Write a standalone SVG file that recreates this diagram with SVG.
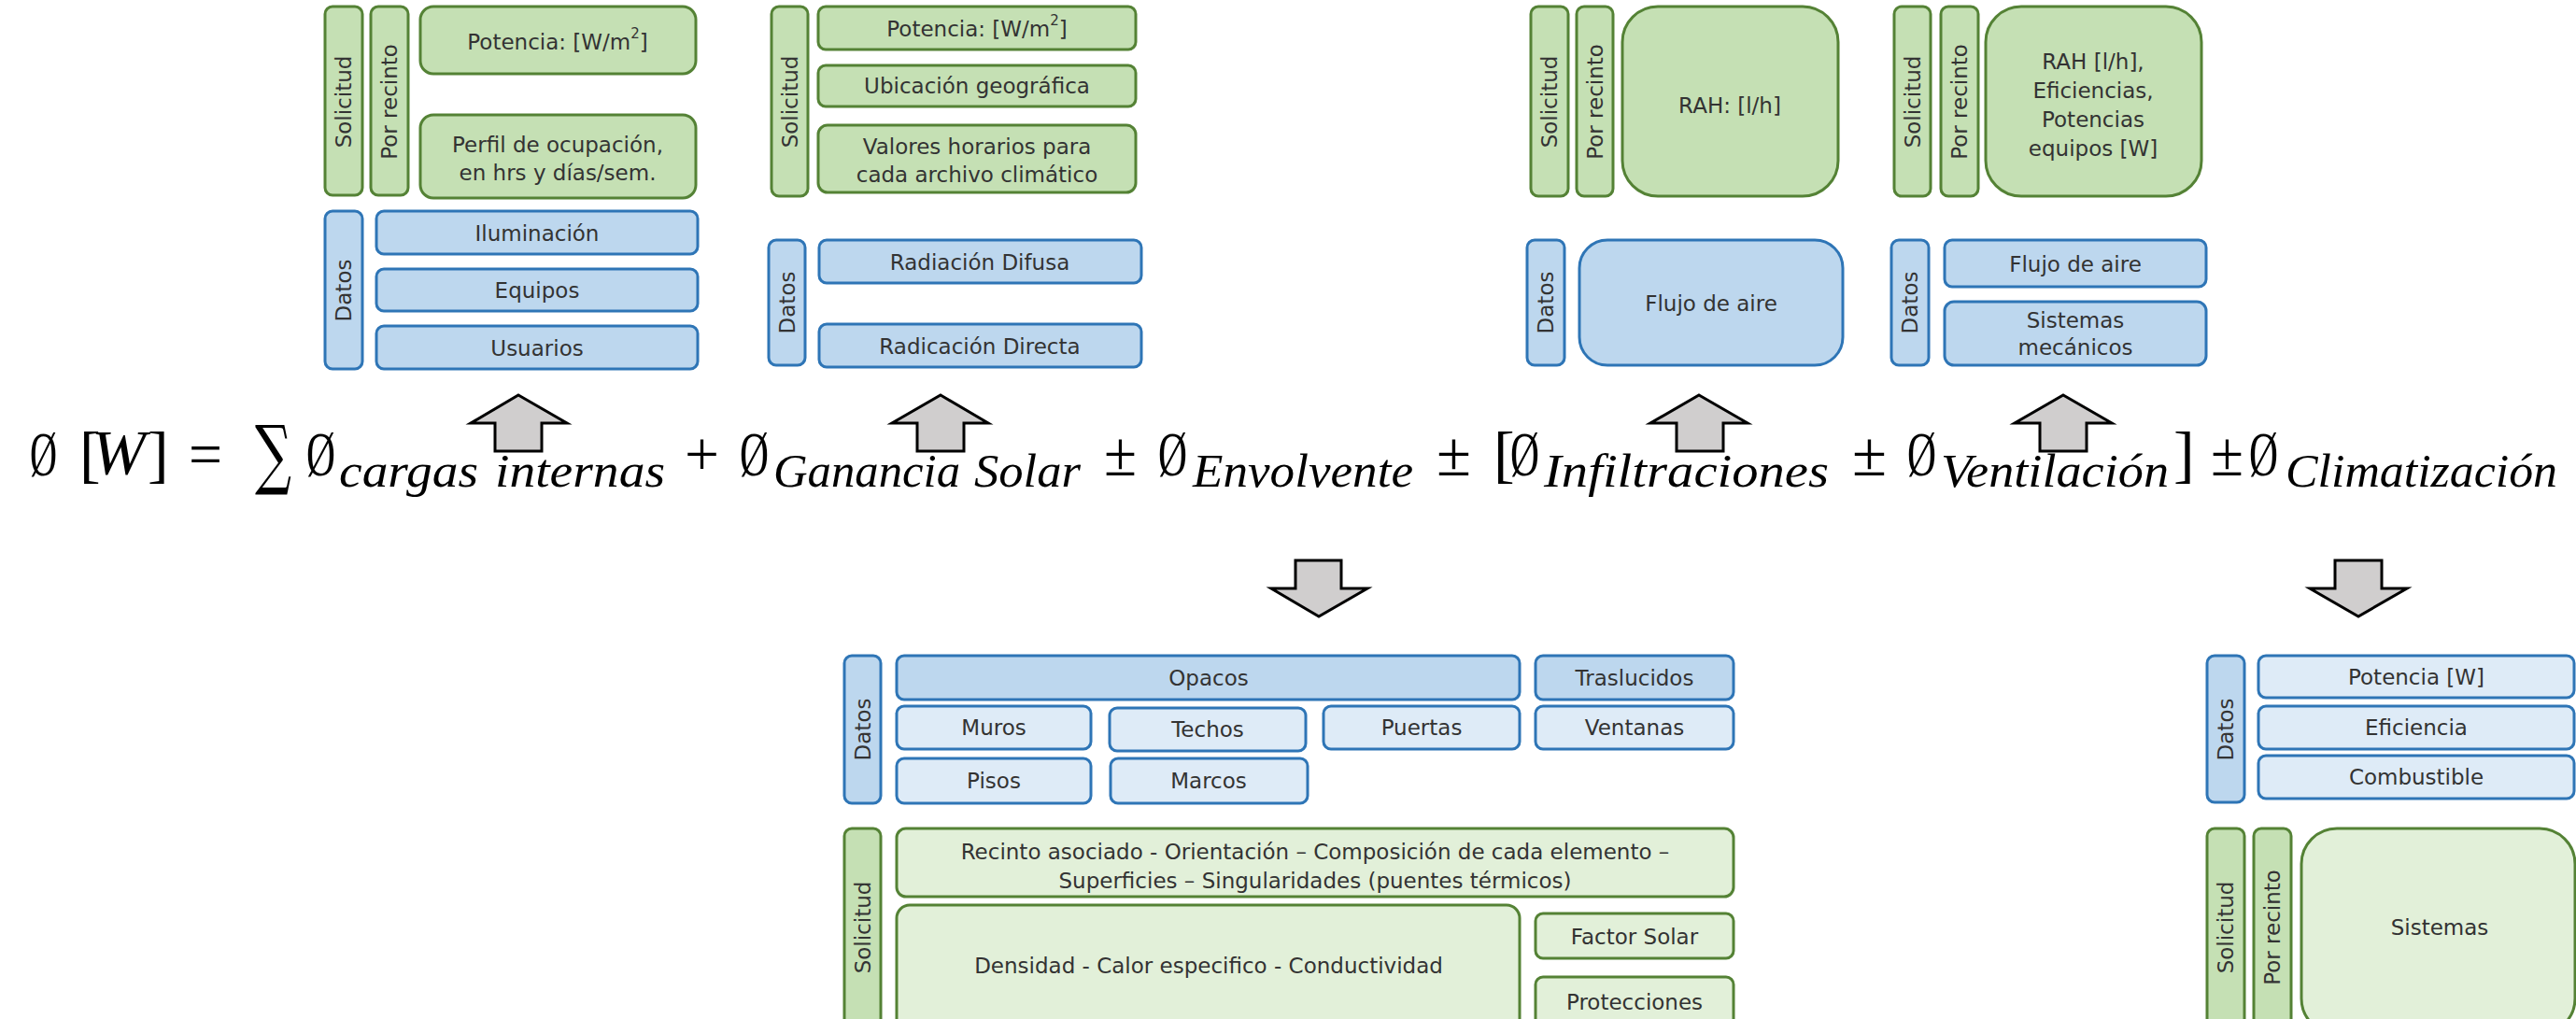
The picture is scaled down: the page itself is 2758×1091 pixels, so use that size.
<svg xmlns="http://www.w3.org/2000/svg" width="2758" height="1091" viewBox="0 0 2758 1091">
<style>
.g{fill:#C5E0B4;stroke:#548235;stroke-width:3}
.gl{fill:#E2F0D9;stroke:#548235;stroke-width:3}
.b{fill:#BDD7EE;stroke:#2E75B6;stroke-width:3}
.bl{fill:#DEEBF7;stroke:#2E75B6;stroke-width:3}
.t{font-family:"DejaVu Sans","Liberation Sans",sans-serif;font-size:23px;fill:#333;text-anchor:middle;dominant-baseline:central}
.v{font-family:"DejaVu Sans","Liberation Sans",sans-serif;font-size:23px;fill:#333;text-anchor:middle;dominant-baseline:central}
.arr{fill:#D0CECE;stroke:#000;stroke-width:3;stroke-linejoin:miter}
.m{font-family:"Liberation Serif","DejaVu Serif",serif;font-size:68px;fill:#000}
.mi{font-family:"Liberation Serif","DejaVu Serif",serif;font-size:68px;font-style:italic;fill:#000}
.s{font-family:"Liberation Serif","DejaVu Serif",serif;font-size:51px;font-style:italic;fill:#000}
</style>
<rect width="2758" height="1091" fill="#fff"/>

<!-- Formula -->
<g id="formula">
<text class="m" x="32" y="509" textLength="29" lengthAdjust="spacingAndGlyphs">Ø</text>
<text class="m" x="85" y="509">[</text>
<text class="mi" x="98" y="507" textLength="58" lengthAdjust="spacingAndGlyphs">W</text>
<text class="m" x="158" y="509">]</text>
<text class="m" x="202" y="509" textLength="36" lengthAdjust="spacingAndGlyphs">=</text>
<text class="m" x="273" y="514" style="font-family:'DejaVu Serif',serif;font-size:82px" textLength="39" lengthAdjust="spacingAndGlyphs">∑</text>
<text class="m" x="328" y="509" textLength="31" lengthAdjust="spacingAndGlyphs">Ø</text>
<text class="s" x="363" y="521" textLength="149" lengthAdjust="spacingAndGlyphs">cargas</text>
<text class="s" x="530" y="521" textLength="182" lengthAdjust="spacingAndGlyphs">internas</text>
<text class="m" x="733" y="509" textLength="37" lengthAdjust="spacingAndGlyphs">+</text>
<text class="m" x="792" y="509" textLength="31" lengthAdjust="spacingAndGlyphs">Ø</text>
<text class="s" x="828" y="521" textLength="200" lengthAdjust="spacingAndGlyphs">Ganancia</text>
<text class="s" x="1043" y="521" textLength="114" lengthAdjust="spacingAndGlyphs">Solar</text>
<text class="m" x="1182" y="509" textLength="35" lengthAdjust="spacingAndGlyphs">±</text>
<text class="m" x="1240" y="509" textLength="31" lengthAdjust="spacingAndGlyphs">Ø</text>
<text class="s" x="1277" y="521" textLength="236" lengthAdjust="spacingAndGlyphs">Envolvente</text>
<text class="m" x="1538" y="509" textLength="37" lengthAdjust="spacingAndGlyphs">±</text>
<text class="m" x="1599" y="509">[</text>
<text class="m" x="1617" y="509" textLength="31" lengthAdjust="spacingAndGlyphs">Ø</text>
<text class="s" x="1653" y="521" textLength="305" lengthAdjust="spacingAndGlyphs">Infiltraciones</text>
<text class="m" x="1983" y="509" textLength="37" lengthAdjust="spacingAndGlyphs">±</text>
<text class="m" x="2042" y="509" textLength="31" lengthAdjust="spacingAndGlyphs">Ø</text>
<text class="s" x="2078" y="521" textLength="244" lengthAdjust="spacingAndGlyphs">Ventilación</text>
<text class="m" x="2327" y="509">]</text>
<text class="m" x="2367" y="509" textLength="35" lengthAdjust="spacingAndGlyphs">±</text>
<text class="m" x="2408" y="509" textLength="31" lengthAdjust="spacingAndGlyphs">Ø</text>
<text class="s" x="2447" y="521" textLength="291" lengthAdjust="spacingAndGlyphs">Climatización</text>
</g>

<!-- Connectors (block arrows) -->
<g id="connectors">
<polygon class="arr" points="555,423 607,453 580,453 580,483 530,483 530,453 504,453"/>
<polygon class="arr" points="1007,423 1058,453 1032,453 1032,483 982,483 982,453 955,453"/>
<polygon class="arr" points="1819,423 1871,453 1845,453 1845,483 1795,483 1795,453 1767,453"/>
<polygon class="arr" points="2209,423 2261,453 2234,453 2234,483 2184,483 2184,453 2157,453"/>
<polygon class="arr" points="1387,600 1436,600 1436,630 1464,630 1412,660 1361,630 1387,630"/>
<polygon class="arr" points="2500,600 2550,600 2550,630 2577,630 2525,660 2473,630 2500,630"/>
</g>

<!-- Cargas internas -->
<g id="cargas-internas">
<rect class="g" x="348" y="7" width="40" height="202" rx="8"/>
<text class="v" transform="translate(368,109) rotate(-90)">Solicitud</text>
<rect class="g" x="397" y="7" width="40" height="202" rx="8"/>
<text class="v" transform="translate(417,109) rotate(-90)">Por recinto</text>
<rect class="g" x="450" y="7" width="295" height="72" rx="14"/>
<text class="t" x="597" y="45">Potencia: [W/m<tspan baseline-shift="super" font-size="15">2</tspan>]</text>
<rect class="g" x="450" y="123" width="295" height="89" rx="14"/>
<text class="t" x="597" y="155">Perfil de ocupación,</text>
<text class="t" x="597" y="185">en hrs y días/sem.</text>
<rect class="b" x="348" y="226" width="40" height="169" rx="8"/>
<text class="v" transform="translate(368,311) rotate(-90)">Datos</text>
<rect class="b" x="403" y="226" width="344" height="46" rx="8"/>
<text class="t" x="575" y="250">Iluminación</text>
<rect class="b" x="403" y="288" width="344" height="45" rx="8"/>
<text class="t" x="575" y="311">Equipos</text>
<rect class="b" x="403" y="349" width="344" height="46" rx="8"/>
<text class="t" x="575" y="373">Usuarios</text>
</g>

<!-- Ganancia solar -->
<g id="ganancia-solar">
<rect class="g" x="826" y="7" width="39" height="203" rx="8"/>
<text class="v" transform="translate(845.5,109) rotate(-90)">Solicitud</text>
<rect class="g" x="876" y="7" width="340" height="46" rx="8"/>
<text class="t" x="1046" y="31">Potencia: [W/m<tspan baseline-shift="super" font-size="15">2</tspan>]</text>
<rect class="g" x="876" y="70" width="340" height="44" rx="8"/>
<text class="t" x="1046" y="92">Ubicación geográfica</text>
<rect class="g" x="876" y="134" width="340" height="72" rx="10"/>
<text class="t" x="1046" y="157">Valores horarios para</text>
<text class="t" x="1046" y="187">cada archivo climático</text>
<rect class="b" x="823" y="257" width="39" height="134" rx="8"/>
<text class="v" transform="translate(842.5,324) rotate(-90)">Datos</text>
<rect class="b" x="877" y="257" width="345" height="46" rx="8"/>
<text class="t" x="1049" y="281">Radiación Difusa</text>
<rect class="b" x="877" y="347" width="345" height="46" rx="8"/>
<text class="t" x="1049" y="371">Radicación Directa</text>
</g>

<!-- Infiltraciones -->
<g id="infiltraciones">
<rect class="g" x="1639" y="7" width="40" height="203" rx="8"/>
<text class="v" transform="translate(1659,109) rotate(-90)">Solicitud</text>
<rect class="g" x="1688" y="7" width="39" height="203" rx="8"/>
<text class="v" transform="translate(1707.5,109) rotate(-90)">Por recinto</text>
<rect class="g" x="1737" y="7" width="231" height="203" rx="38"/>
<text class="t" x="1852" y="113">RAH: [l/h]</text>
<rect class="b" x="1635" y="257" width="40" height="134" rx="8"/>
<text class="v" transform="translate(1655,324) rotate(-90)">Datos</text>
<rect class="b" x="1691" y="257" width="282" height="134" rx="30"/>
<text class="t" x="1832" y="325">Flujo de aire</text>
</g>

<!-- Ventilacion -->
<g id="ventilacion">
<rect class="g" x="2028" y="7" width="39" height="203" rx="8"/>
<text class="v" transform="translate(2047.5,109) rotate(-90)">Solicitud</text>
<rect class="g" x="2078" y="7" width="40" height="203" rx="8"/>
<text class="v" transform="translate(2098,109) rotate(-90)">Por recinto</text>
<rect class="g" x="2126" y="7" width="231" height="203" rx="38"/>
<text class="t" x="2241" y="66">RAH [l/h],</text>
<text class="t" x="2241" y="97">Eficiencias,</text>
<text class="t" x="2241" y="128">Potencias</text>
<text class="t" x="2241" y="159">equipos [W]</text>
<rect class="b" x="2025" y="257" width="40" height="134" rx="8"/>
<text class="v" transform="translate(2045,324) rotate(-90)">Datos</text>
<rect class="b" x="2082" y="257" width="280" height="50" rx="8"/>
<text class="t" x="2222" y="283">Flujo de aire</text>
<rect class="b" x="2082" y="323" width="280" height="68" rx="10"/>
<text class="t" x="2222" y="343">Sistemas</text>
<text class="t" x="2222" y="372">mecánicos</text>
</g>

<!-- Envolvente -->
<g id="envolvente">
<rect class="b" x="904" y="702" width="39" height="158" rx="8"/>
<text class="v" transform="translate(923.5,781) rotate(-90)">Datos</text>
<rect class="b" x="960" y="702" width="667" height="47" rx="8"/>
<text class="t" x="1294" y="726">Opacos</text>
<rect class="b" x="1644" y="702" width="212" height="47" rx="8"/>
<text class="t" x="1750" y="726">Traslucidos</text>
<rect class="bl" x="960" y="756" width="208" height="46" rx="8"/>
<text class="t" x="1064" y="779">Muros</text>
<rect class="bl" x="1188" y="758" width="210" height="46" rx="8"/>
<text class="t" x="1293" y="781">Techos</text>
<rect class="bl" x="1417" y="756" width="210" height="46" rx="8"/>
<text class="t" x="1522" y="779">Puertas</text>
<rect class="bl" x="1644" y="756" width="212" height="46" rx="8"/>
<text class="t" x="1750" y="779">Ventanas</text>
<rect class="bl" x="960" y="812" width="208" height="48" rx="8"/>
<text class="t" x="1064" y="836">Pisos</text>
<rect class="bl" x="1189" y="812" width="211" height="48" rx="8"/>
<text class="t" x="1294" y="836">Marcos</text>
<rect class="g" x="904" y="887" width="39" height="220" rx="8"/>
<text class="v" transform="translate(923.5,993) rotate(-90)">Solicitud</text>
<rect class="gl" x="960" y="887" width="896" height="73" rx="10"/>
<text class="t" x="1408" y="912">Recinto asociado - Orientación – Composición de cada elemento –</text>
<text class="t" x="1408" y="943">Superficies – Singularidades (puentes térmicos)</text>
<rect class="gl" x="960" y="969" width="667" height="140" rx="14"/>
<text class="t" x="1294" y="1034">Densidad - Calor especifico  - Conductividad</text>
<rect class="gl" x="1644" y="978" width="212" height="48" rx="8"/>
<text class="t" x="1750" y="1003">Factor Solar</text>
<rect class="gl" x="1644" y="1046" width="212" height="60" rx="8"/>
<text class="t" x="1750" y="1073">Protecciones</text>
</g>

<!-- Climatizacion -->
<g id="climatizacion">
<rect class="b" x="2363" y="702" width="40" height="157" rx="8"/>
<text class="v" transform="translate(2383,781) rotate(-90)">Datos</text>
<rect class="bl" x="2418" y="702" width="338" height="45" rx="8"/>
<text class="t" x="2587" y="725">Potencia [W]</text>
<rect class="bl" x="2418" y="756" width="338" height="46" rx="8"/>
<text class="t" x="2587" y="779">Eficiencia</text>
<rect class="bl" x="2418" y="809" width="338" height="46" rx="8"/>
<text class="t" x="2587" y="832">Combustible</text>
<rect class="g" x="2363" y="887" width="40" height="220" rx="8"/>
<text class="v" transform="translate(2383,993) rotate(-90)">Solicitud</text>
<rect class="g" x="2413" y="887" width="40" height="220" rx="8"/>
<text class="v" transform="translate(2433,993) rotate(-90)">Por recinto</text>
<rect class="gl" x="2464" y="887" width="293" height="220" rx="38"/>
<text class="t" x="2612" y="993">Sistemas</text>
</g>
</svg>
